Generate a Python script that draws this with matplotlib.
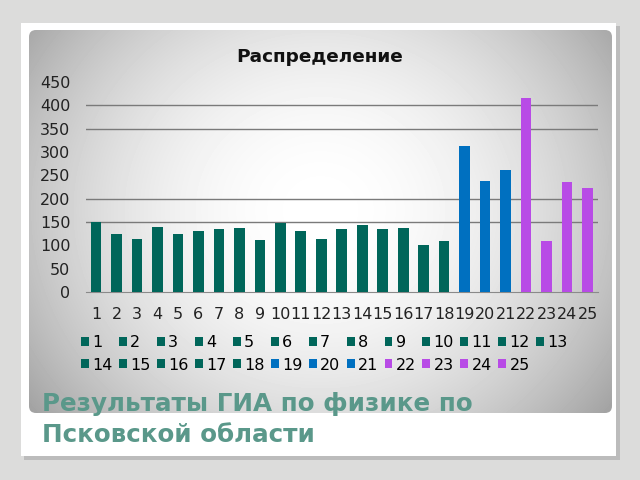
import numpy as np
import matplotlib.pyplot as plt
from matplotlib.patches import FancyBboxPatch, Rectangle

plt.rcParams['font.family'] = ['DejaVu Sans']

# data
categories = [str(i) for i in range(1, 26)]
values = [150, 125, 113, 140, 125, 131, 136, 138, 111, 148, 130, 113,
          134, 144, 134, 138, 100, 109, 313, 237, 262, 416, 109, 236, 222]
groups = ['t'] * 18 + ['b'] * 3 + ['p'] * 4
grid_levels = [150, 200, 350, 400]

colors = {'t': '#00665a', 'b': '#0070c0', 'p': '#b84be6'}

fig = plt.figure(figsize=(6.4, 4.8), dpi=100)
fig.patch.set_facecolor('#dcdcdb')

# background: card, shadow, gradient panel
bg = fig.add_axes([0, 0, 1, 1])
bg.set_xlim(0, 640)
bg.set_ylim(480, 0)
bg.axis('off')
bg.add_patch(Rectangle((24, 26), 596, 434, color='#a8a8a8', alpha=0.6, lw=0))
bg.add_patch(Rectangle((21, 23), 595, 433, color='white', lw=0))

yy, xx = np.mgrid[0:480, 0:640]
d2 = ((xx - 320) / 330.0) ** 2 + ((yy - 210) / 300.0) ** 2
shade = np.clip(1.0 - 0.3 * d2, 0.62, 1.0)
img = bg.imshow(shade, cmap='gray', vmin=0, vmax=1, extent=(0, 640, 480, 0),
                interpolation='bilinear', zorder=1)
panel = FancyBboxPatch((29, 30), 583, 383, boxstyle='round,pad=0,rounding_size=7',
                       transform=bg.transData, fc='none', ec='none')
bg.add_patch(panel)
img.set_clip_path(panel)

bg.text(42, 411, 'Результаты ГИА по физике по', fontsize=17.7, fontweight='bold',
        color='#5a988a', zorder=3)
bg.text(42, 442, 'Псковской области', fontsize=17.7, fontweight='bold',
        color='#5a988a', zorder=3)

ax = fig.add_axes([0.134, 0.3917, 0.8, 0.4375])
ax.set_facecolor('none')
x = np.arange(1, 26)
handles = []
for i in range(25):
    h = ax.bar(x[i], values[i], width=0.52, color=colors[groups[i]], zorder=3,
               label=categories[i])
    handles.append(h)
for g in grid_levels:
    ax.axhline(g, color='#7a7a7a', lw=1, zorder=1)
ax.set_xlim(0.5, 25.5)
ax.set_ylim(0, 450)
ax.set_yticks(np.arange(0, 451, 50))
ax.set_xticks(x)
ax.set_xticklabels(categories)
ax.tick_params(length=0, labelsize=11.5, colors='#222222')
ax.tick_params(axis='y', pad=11)
ax.tick_params(axis='x', pad=11)
for s in ['top', 'right', 'left']:
    ax.spines[s].set_visible(False)
ax.spines['bottom'].set_color('#8a8a8a')

fig.text(0.5, 0.882, 'Распределение', ha='center', va='center', fontsize=13.3,
         fontweight='bold', color='#111111')

order = []
for i in range(12):
    order += [i, i + 13]
order.append(12)
leg = fig.legend([handles[i] for i in order], [categories[i] for i in order],
                 ncol=13, loc='upper left', bbox_to_anchor=(0.114, 0.318),
                 frameon=False, fontsize=11.5, handlelength=0.5, handleheight=0.5,
                 handletextpad=0.2, columnspacing=0.4, labelspacing=0.45,
                 borderpad=0)

fig.savefig('out.png', dpi=100)
